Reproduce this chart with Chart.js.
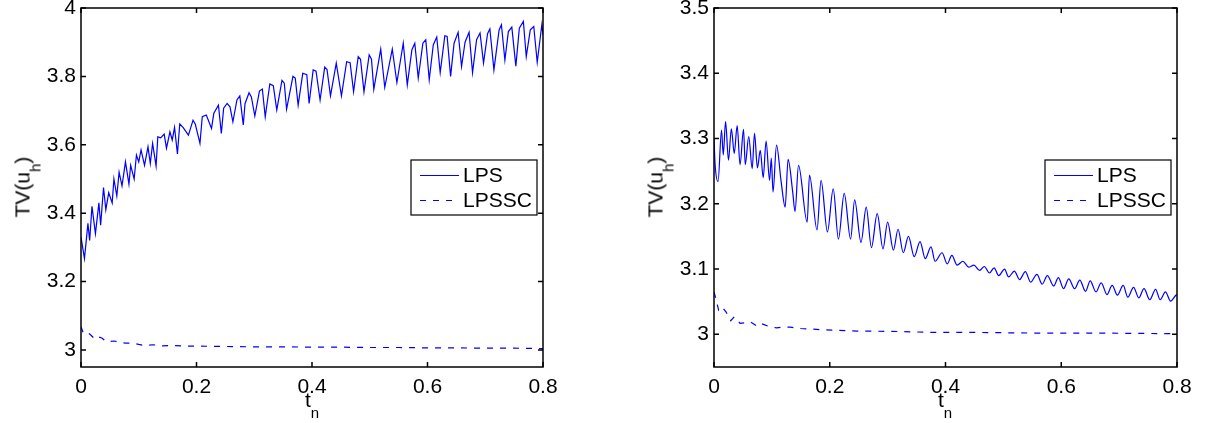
<!DOCTYPE html>
<html>
<head>
<meta charset="utf-8">
<script src="https://cdn.jsdelivr.net/npm/chart.js@4.4.0/dist/chart.umd.min.js"></script>
<style>
body { margin: 0; background: #fff; font-family: 'Liberation Sans', Arial, Helvetica, sans-serif; }
#wrap { position: relative; width: 1209px; height: 423px; overflow: hidden; }
.box { position: absolute; top: 0; }
.lab { position: absolute; font-size: 21px; color: #000; white-space: nowrap; line-height: 1; }
.lab sub { font-size: 15px; vertical-align: baseline; position: relative; top: 11px; }
.ylab { transform: translate(-50%, -50%) rotate(-90deg); }
.xlab { transform: translateX(-50%); }
</style>
</head>
<body>
<div id="wrap">
  <div class="box" style="left:0px"><canvas id="leftChart" width="560" height="423"></canvas></div>
  <div class="box" style="left:633px"><canvas id="rightChart" width="561" height="423"></canvas></div>
  <div class="lab ylab" style="left:22px; top:187px">TV(u<sub>h</sub>)</div>
  <div class="lab ylab" style="left:655px; top:187px">TV(u<sub>h</sub>)</div>
  <div class="lab xlab" style="left:312px; top:389px">t<sub>n</sub></div>
  <div class="lab xlab" style="left:945px; top:389px">t<sub>n</sub></div>
</div>
<script>
// series labels
var seriesNames = ["LPS", "LPSSC"];

// tick labels
var xTicks = [0, 0.2, 0.4, 0.6, 0.8];
var yTicksLeft = [3, 3.2, 3.4, 3.6, 3.8, 4];
var yTicksRight = [3, 3.1, 3.2, 3.3, 3.4, 3.5];

// left panel, LPS
var tLpsLeft = [0.000, 0.006, 0.012, 0.015, 0.019, 0.025, 0.031, 0.034, 0.039, 0.043, 0.048, 0.054, 0.057, 0.062, 0.066, 0.071,
    0.077, 0.083, 0.086, 0.092, 0.096, 0.100, 0.104, 0.110, 0.116, 0.120, 0.124, 0.130, 0.133, 0.138, 0.144, 0.148,
    0.154, 0.158, 0.162, 0.167, 0.171, 0.177, 0.186, 0.194, 0.198, 0.206, 0.210, 0.217, 0.226, 0.230, 0.238, 0.243,
    0.247, 0.253, 0.258, 0.263, 0.270, 0.275, 0.281, 0.284, 0.291, 0.295, 0.301, 0.309, 0.314, 0.319, 0.327, 0.333,
    0.339, 0.348, 0.352, 0.356, 0.367, 0.371, 0.376, 0.384, 0.391, 0.395, 0.402, 0.407, 0.414, 0.422, 0.426, 0.432,
    0.442, 0.451, 0.460, 0.466, 0.472, 0.480, 0.484, 0.490, 0.499, 0.503, 0.507, 0.519, 0.526, 0.539, 0.547, 0.558,
    0.565, 0.573, 0.578, 0.584, 0.592, 0.597, 0.603, 0.610, 0.616, 0.622, 0.630, 0.634, 0.640, 0.646, 0.653, 0.659,
    0.665, 0.672, 0.678, 0.685, 0.691, 0.697, 0.704, 0.708, 0.715, 0.724, 0.728, 0.734, 0.740, 0.746, 0.753, 0.759,
    0.766, 0.771, 0.778, 0.784, 0.790, 0.798, 0.800];
var vLpsLeft = [3.330, 3.267, 3.370, 3.320, 3.420, 3.340, 3.430, 3.365, 3.475, 3.410, 3.460, 3.430, 3.500, 3.450, 3.520, 3.480,
    3.550, 3.485, 3.540, 3.500, 3.570, 3.550, 3.585, 3.540, 3.594, 3.545, 3.604, 3.538, 3.623, 3.620, 3.631, 3.590,
    3.638, 3.614, 3.651, 3.573, 3.661, 3.650, 3.628, 3.672, 3.660, 3.604, 3.682, 3.687, 3.648, 3.692, 3.716, 3.633,
    3.707, 3.721, 3.711, 3.667, 3.731, 3.743, 3.658, 3.720, 3.752, 3.740, 3.684, 3.757, 3.763, 3.682, 3.778, 3.773,
    3.702, 3.788, 3.780, 3.704, 3.800, 3.795, 3.716, 3.809, 3.805, 3.721, 3.819, 3.815, 3.731, 3.827, 3.820, 3.743,
    3.839, 3.743, 3.843, 3.840, 3.755, 3.858, 3.850, 3.755, 3.863, 3.850, 3.762, 3.880, 3.768, 3.880, 3.782, 3.897,
    3.775, 3.878, 3.897, 3.795, 3.897, 3.907, 3.790, 3.892, 3.915, 3.811, 3.919, 3.917, 3.800, 3.897, 3.929, 3.829,
    3.900, 3.929, 3.811, 3.907, 3.927, 3.839, 3.925, 3.939, 3.819, 3.936, 3.951, 3.848, 3.931, 3.944, 3.830, 3.941,
    3.961, 3.858, 3.936, 3.946, 3.841, 3.951, 3.922];

// left panel, LPSSC
var tSscLeft = [0.000, 0.004, 0.010, 0.016, 0.024, 0.030, 0.036, 0.044, 0.050, 0.058, 0.066, 0.078, 0.090, 0.100, 0.110, 0.125,
    0.140, 0.160, 0.180, 0.200, 0.250, 0.300, 0.350, 0.400, 0.450, 0.500, 0.550, 0.600, 0.650, 0.700, 0.750, 0.800];
var vSscLeft = [3.068, 3.049, 3.052, 3.045, 3.032, 3.038, 3.035, 3.024, 3.025, 3.026, 3.022, 3.020, 3.020, 3.016, 3.013, 3.015,
    3.012, 3.013, 3.011, 3.011, 3.010, 3.009, 3.009, 3.008, 3.008, 3.007, 3.007, 3.006, 3.006, 3.005, 3.005, 3.004];

// right panel, LPS
var tLpsRight = [0.000, 0.002, 0.007, 0.013, 0.016, 0.020, 0.025, 0.030, 0.035, 0.040, 0.045, 0.051, 0.054, 0.060, 0.066, 0.070,
    0.075, 0.080, 0.085, 0.090, 0.096, 0.099, 0.102, 0.108, 0.116, 0.123, 0.128, 0.136, 0.140, 0.146, 0.161, 0.165,
    0.178, 0.185, 0.196, 0.206, 0.215, 0.225, 0.236, 0.243, 0.254, 0.263, 0.272, 0.282, 0.292, 0.300, 0.310, 0.318,
    0.327, 0.336, 0.346, 0.356, 0.365, 0.375, 0.382, 0.394, 0.403, 0.411, 0.420, 0.430, 0.440, 0.449, 0.459, 0.467,
    0.476, 0.484, 0.492, 0.502, 0.509, 0.519, 0.528, 0.538, 0.547, 0.558, 0.567, 0.576, 0.587, 0.595, 0.604, 0.613,
    0.623, 0.632, 0.642, 0.650, 0.660, 0.669, 0.679, 0.688, 0.697, 0.707, 0.715, 0.725, 0.734, 0.743, 0.753, 0.763,
    0.771, 0.780, 0.789, 0.798, 0.800];
var vLpsRight = [3.300, 3.259, 3.234, 3.313, 3.275, 3.326, 3.267, 3.315, 3.277, 3.320, 3.260, 3.314, 3.260, 3.303, 3.254, 3.308,
    3.255, 3.282, 3.240, 3.296, 3.236, 3.270, 3.218, 3.290, 3.234, 3.195, 3.268, 3.218, 3.188, 3.259, 3.172, 3.244,
    3.160, 3.236, 3.157, 3.223, 3.146, 3.216, 3.146, 3.206, 3.141, 3.195, 3.133, 3.185, 3.131, 3.172, 3.129, 3.161,
    3.125, 3.150, 3.119, 3.142, 3.116, 3.134, 3.112, 3.125, 3.108, 3.121, 3.106, 3.112, 3.103, 3.106, 3.098, 3.104,
    3.094, 3.102, 3.090, 3.100, 3.088, 3.097, 3.084, 3.096, 3.080, 3.092, 3.077, 3.090, 3.074, 3.087, 3.070, 3.085,
    3.070, 3.083, 3.066, 3.082, 3.065, 3.079, 3.061, 3.075, 3.060, 3.075, 3.057, 3.072, 3.056, 3.070, 3.053, 3.069,
    3.053, 3.065, 3.051, 3.060, 3.061];

// right panel, LPSSC
var tSscRight = [0.000, 0.004, 0.008, 0.014, 0.021, 0.029, 0.035, 0.045, 0.055, 0.063, 0.075, 0.083, 0.095, 0.108, 0.120, 0.132,
    0.150, 0.190, 0.247, 0.305, 0.380, 0.450, 0.550, 0.650, 0.800];
var vSscRight = [3.065, 3.052, 3.037, 3.042, 3.034, 3.021, 3.027, 3.017, 3.018, 3.019, 3.012, 3.016, 3.012, 3.010, 3.011, 3.011,
    3.009, 3.007, 3.005, 3.0046, 3.003, 3.003, 3.002, 3.002, 3.001];

var FONT = "'Liberation Sans', Arial, Helvetica, sans-serif";
var BLUE = "#0000ff";
var DASH = [6, 7];

function pts(ts, vs) {
    return ts.map(function (t, i) { return { x: t, y: vs[i] }; });
}

function fmt(v) {
    return String(parseFloat(Number(v).toFixed(2)));
}

// box, inward ticks on all four sides, legend inside the box
var framePlugin = {
    id: 'frame',
    afterDatasetsDraw: function (chart) {
        var ctx = chart.ctx;
        var ca = chart.chartArea;
        var sx = chart.scales.x, sy = chart.scales.y;
        var tl = 5;
        ctx.save();
        ctx.strokeStyle = '#000';
        ctx.lineWidth = 1.5;
        ctx.beginPath();
        sx.ticks.forEach(function (t) {
            var px = sx.getPixelForValue(t.value);
            ctx.moveTo(px, ca.bottom); ctx.lineTo(px, ca.bottom - tl);
            ctx.moveTo(px, ca.top); ctx.lineTo(px, ca.top + tl);
        });
        sy.ticks.forEach(function (t) {
            var py = sy.getPixelForValue(t.value);
            ctx.moveTo(ca.left, py); ctx.lineTo(ca.left + tl, py);
            ctx.moveTo(ca.right, py); ctx.lineTo(ca.right - tl, py);
        });
        ctx.stroke();
        ctx.strokeRect(ca.left, ca.top, ca.right - ca.left, ca.bottom - ca.top);

        // legend
        var w = 126, h = 55;
        var lx = ca.right - 6 - w, ly = 160;
        ctx.fillStyle = '#fff';
        ctx.fillRect(lx, ly, w, h);
        ctx.lineWidth = 1.2;
        ctx.strokeStyle = '#000';
        ctx.strokeRect(lx, ly, w, h);
        ctx.font = '21px ' + FONT;
        ctx.textBaseline = 'middle';
        ctx.textAlign = 'left';
        chart.data.datasets.forEach(function (ds, i) {
            var yy = ly + 15.5 + i * 25;
            ctx.strokeStyle = ds.borderColor;
            ctx.lineWidth = ds.borderWidth;
            ctx.setLineDash(ds.borderDash || []);
            ctx.beginPath();
            ctx.moveTo(lx + 9, yy);
            ctx.lineTo(lx + 48, yy);
            ctx.stroke();
            ctx.setLineDash([]);
            ctx.fillStyle = '#000';
            ctx.fillText(ds.label, lx + 52, yy + 1);
        });
        ctx.restore();
    }
};

function makeChart(id, lps, ssc, yMin, yMax, yTicks, smooth) {
    return new Chart(document.getElementById(id), {
        type: 'line',
        data: {
            datasets: [
                {
                    label: seriesNames[0],
                    data: lps,
                    borderColor: BLUE,
                    borderWidth: 1.2,
                    pointRadius: 0,
                    fill: false,
                    cubicInterpolationMode: smooth ? 'monotone' : 'default',
                    tension: 0
                },
                {
                    label: seriesNames[1],
                    data: ssc,
                    borderColor: BLUE,
                    borderWidth: 1.2,
                    borderDash: DASH,
                    pointRadius: 0,
                    fill: false,
                    tension: 0
                }
            ]
        },
        options: {
            responsive: false,
            animation: false,
            devicePixelRatio: 1,
            layout: { padding: { top: 8, right: 17, left: 0, bottom: 0 } },
            plugins: {
                legend: { display: false },
                tooltip: { enabled: false }
            },
            scales: {
                x: {
                    type: 'linear',
                    min: 0,
                    max: 0.8,
                    afterBuildTicks: function (s) { s.ticks = xTicks.map(function (v) { return { value: v }; }); },
                    afterFit: function (s) { s.height = 56; s.paddingLeft = 0; s.paddingRight = 0; },
                    grid: { display: false, drawTicks: false },
                    border: { display: false },
                    ticks: {
                        color: '#000',
                        font: { family: FONT, size: 21 },
                        padding: 8,
                        maxRotation: 0,
                        autoSkip: false,
                        callback: fmt
                    }
                },
                y: {
                    type: 'linear',
                    min: yMin,
                    max: yMax,
                    afterBuildTicks: function (s) { s.ticks = yTicks.map(function (v) { return { value: v }; }); },
                    afterFit: function (s) { s.width = 81; s.paddingTop = 0; s.paddingBottom = 0; },
                    grid: { display: false, drawTicks: false },
                    border: { display: false },
                    ticks: {
                        color: '#000',
                        font: { family: FONT, size: 21 },
                        padding: 5,
                        autoSkip: false,
                        callback: fmt
                    }
                }
            }
        },
        plugins: [framePlugin]
    });
}

var leftChart = makeChart('leftChart', pts(tLpsLeft, vLpsLeft), pts(tSscLeft, vSscLeft), 2.95, 4, yTicksLeft, false);
var rightChart = makeChart('rightChart', pts(tLpsRight, vLpsRight), pts(tSscRight, vSscRight), 2.95, 3.5, yTicksRight, true);
</script>
</body>
</html>
